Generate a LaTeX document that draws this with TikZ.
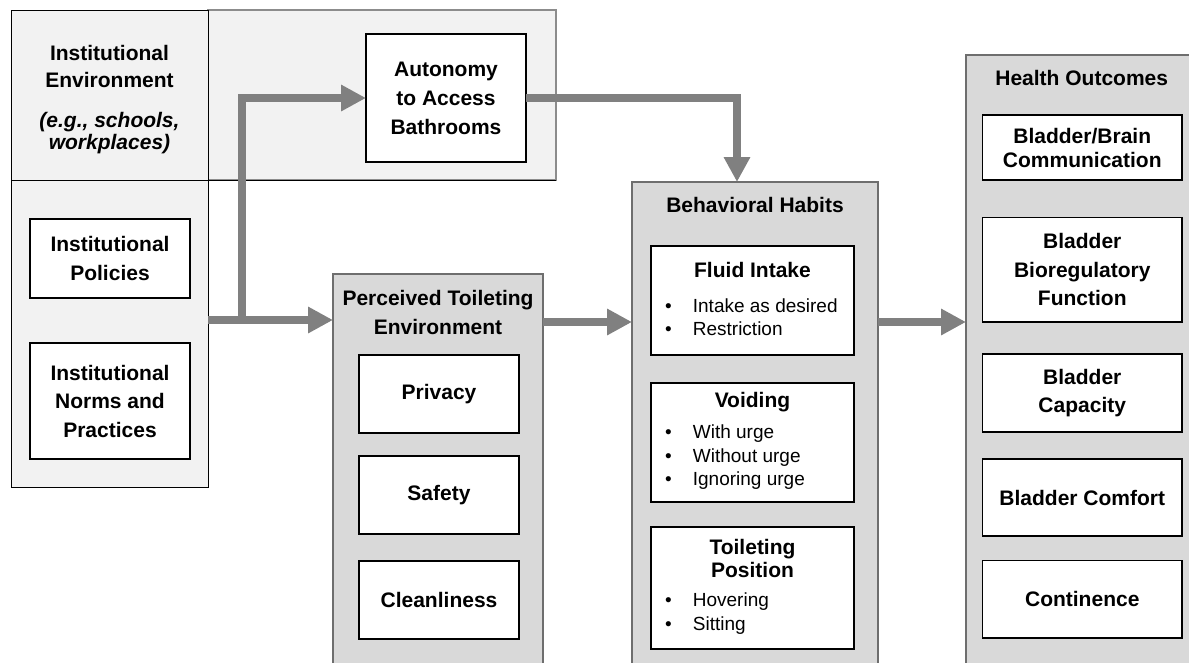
\documentclass[tikz,border=0pt]{standalone}
\usepackage{fontspec}
\setmainfont{Liberation Sans}
\usetikzlibrary{arrows.meta}
\definecolor{lightp}{HTML}{F2F2F2}
\definecolor{midp}{HTML}{D9D9D9}
\definecolor{arrg}{HTML}{808080}
\definecolor{pborder}{HTML}{6E6E6E}
\definecolor{bandborder}{HTML}{8C8C8C}
\newcommand\myttlfont{\fontsize{21}{28.5}\selectfont\bfseries}
\newcommand\mybul{\makebox[27.7pt][l]{\textbullet}}
\tikzset{
  panel/.style={draw=pborder, line width=1.5pt, fill=midp, inner sep=0pt, outer sep=0pt},
  lpanel/.style={draw=black, line width=1pt, fill=lightp, inner sep=0pt, outer sep=0pt},
  band/.style={draw=bandborder, line width=1.2pt, fill=lightp, inner sep=0pt, outer sep=0pt},
  wbox/.style={draw=black, line width=1.4pt, fill=white, inner sep=0pt, outer sep=0pt, align=center, font=\myttlfont},
  ttl/.style={align=center, font=\myttlfont, inner sep=0pt},
  blist/.style={align=left, anchor=west, inner sep=0pt, font=\fontsize{19}{23.5}\selectfont},
  arr/.style={draw=arrg, line width=8pt, line join=miter, -{Triangle[length=25pt,width=25pt]}},
}
\begin{document}
\begin{tikzpicture}[x=1pt,y=-1pt]
\useasboundingbox (0,0) rectangle (1189,662);
\clip (0,0) rectangle (1189,662);
\fill[white] (0,0) rectangle (1189,662);

% institutional environment
\node[band, minimum width=348pt, minimum height=170pt] (band) at (382,95) {};
\node[lpanel, minimum width=197pt, minimum height=477pt] (inst) at (109.5,248.5) {};
\draw[black, line width=1pt] (inst.west |- band.south) -- (band.south east);
\node[ttl, font=\fontsize{21}{27.3}\selectfont\bfseries] (instT) at (109.5,66.3) {Institutional\\Environment};
\node[ttl, font=\fontsize{21}{22}\selectfont\bfseries\itshape] (instE) at (109.5,133) {(e.g., schools,\\workplaces)};
\node[wbox, minimum width=160pt, minimum height=79pt, font=\fontsize{21}{29.7}\selectfont\bfseries] (pol) at (110,258.5) {Institutional\\Policies};
\node[wbox, minimum width=160pt, minimum height=116pt] (norms) at (110,401) {Institutional\\Norms and\\Practices};
\node[wbox, minimum width=160pt, minimum height=128pt, font=\fontsize{21}{29}\selectfont\bfseries] (aut) at (446,98) {Autonomy\\to Access\\Bathrooms};

% perceived toileting environment
\node[panel, minimum width=210pt, minimum height=426pt] (perc) at (438,487) {};
\node[ttl, font=\fontsize{21}{29}\selectfont\bfseries] (percT) at (438,312.5) {Perceived Toileting\\Environment};
\node[wbox, minimum width=160pt, minimum height=78pt] (priv) at (439,394) {Privacy};
\node[wbox, minimum width=160pt, minimum height=78pt] (safe) at (439,495) {Safety};
\node[wbox, minimum width=160pt, minimum height=78pt] (clean) at (439,600) {Cleanliness};

% behavioral habits
\node[panel, minimum width=246pt, minimum height=518pt] (beh) at (755,441) {};
\node[ttl] (behT) at (755,205) {Behavioral Habits};
\node[wbox, minimum width=203pt, minimum height=109pt] (fluid) at (752.5,300.5) {};
\node[ttl] (fluidT) at (752.5,270) {Fluid Intake};
\node[blist] (fluidB) at (665,317.35) {\mybul Intake as desired\\\mybul Restriction};
\node[wbox, minimum width=203pt, minimum height=119pt] (void) at (752.5,442.5) {};
\node[ttl] (voidT) at (752.5,401.7) {Voiding};
\node[blist] (voidB) at (665,457.5) {\mybul With urge\\\mybul Without urge\\\mybul Ignoring urge};
\node[wbox, minimum width=203pt, minimum height=122pt] (toil) at (752.5,588) {};
\node[ttl, font=\fontsize{21}{23.3}\selectfont\bfseries] (toilT) at (752.5,558.3) {Toileting\\Position};
\node[blist] (toilB) at (665,613.65) {\mybul Hovering\\\mybul Sitting};

% health outcomes
\node[panel, minimum width=229pt, minimum height=645pt] (health) at (1080.5,377.5) {};
\node[ttl] (healthT) at (1081.7,78) {Health Outcomes};
\node[wbox, minimum width=199.5pt, minimum height=65pt, font=\fontsize{21}{24}\selectfont\bfseries] (hb1) at (1082.25,147.5) {Bladder/Brain\\Communication};
\node[wbox, minimum width=199.5pt, minimum height=104.5pt] (hb2) at (1082.25,269.75) {Bladder\\Bioregulatory\\Function};
\node[wbox, minimum width=199.5pt, minimum height=78pt] (hb3) at (1082.25,393) {Bladder\\Capacity};
\node[wbox, minimum width=199.5pt, minimum height=77pt] (hb4) at (1082.25,497.5) {Bladder Comfort};
\node[wbox, minimum width=199.5pt, minimum height=77.5pt] (hb5) at (1082.25,599.25) {Continence};

% connectors
\coordinate (j1) at (241.5,320);
\coordinate (j2) at (737,98);
\coordinate (m) at (0,322);
\draw[arr] (inst.east |- j1) -- (perc.west |- j1);
\draw[arr] ([yshift=4pt]j1) -- (j1 |- aut.west) -- (aut.west);
\draw[arr] (aut.east) -- (j2) -- (j2 |- beh.north);
\draw[arr] (perc.east |- m) -- (beh.west |- m);
\draw[arr] (beh.east |- m) -- (health.west |- m);
\end{tikzpicture}
\end{document}
